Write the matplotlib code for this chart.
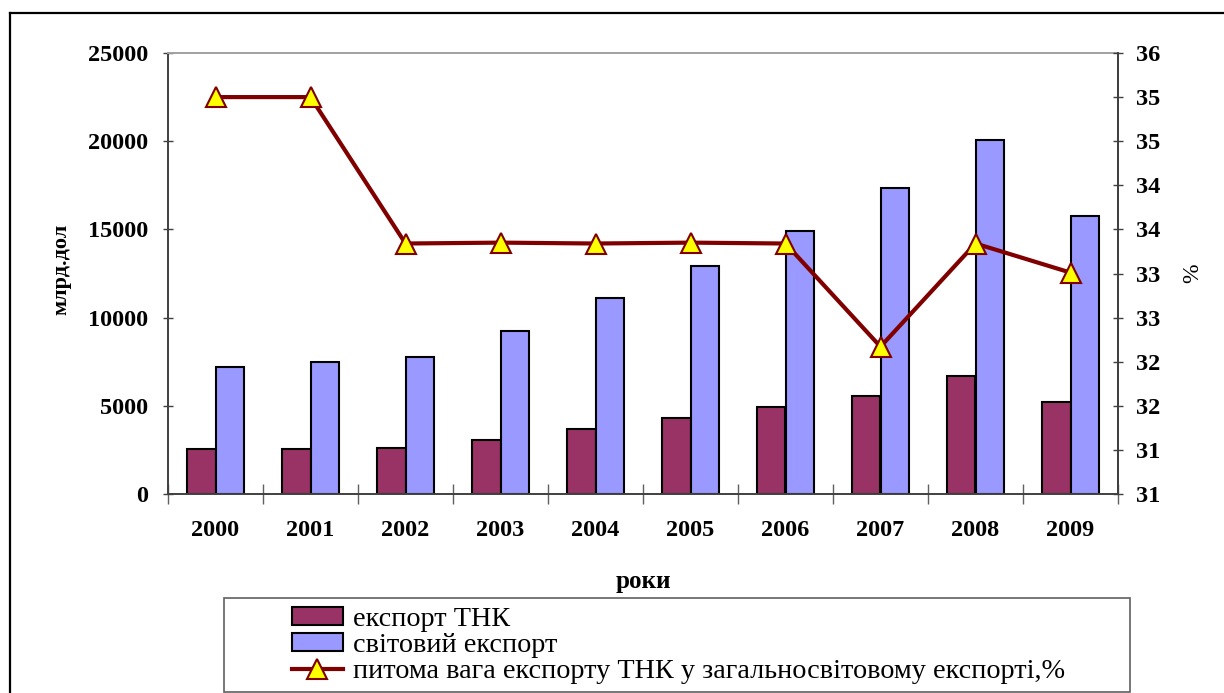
import matplotlib
matplotlib.use("Agg")
import matplotlib.pyplot as plt
from matplotlib.patches import Rectangle
from matplotlib.lines import Line2D
from matplotlib.font_manager import FontProperties
import numpy as np

years = ["2000", "2001", "2002", "2003", "2004", "2005", "2006", "2007", "2008", "2009"]
export_tnc = [2534, 2534, 2626, 3061, 3685, 4308, 4932, 5556, 6672, 5215]
world_export = [7182, 7483, 7785, 9240, 11094, 12942, 14909, 17364, 20051, 15743]
share_pct = [35.5, 35.5, 33.84, 33.85, 33.84, 33.85, 33.84, 32.67, 33.84, 33.51]

left_ticks = [0, 5000, 10000, 15000, 20000, 25000]
right_ticks = [31.0, 31.5, 32.0, 32.5, 33.0, 33.5, 34.0, 34.5, 35.0, 35.5, 36.0]
right_labels = ["31", "31", "32", "32", "33", "33", "34", "34", "35", "35", "36"]

label_tnc = "експорт ТНК"
label_world = "світовий експорт"
label_share = "питома вага експорту ТНК у загальносвітовому експорті,%"

C_TNC = "#993366"
C_WORLD = "#9999FF"
C_LINE = "#800000"
C_MARK = "#FFFF00"

serif = ["Liberation Serif", "DejaVu Serif"]

W, H = 1224, 693
fig = plt.figure(figsize=(W / 100, H / 100), dpi=100)

# outer frame (left and top lines)
fig.add_artist(Line2D([10 / W, 10 / W], [0, 1 - 13 / H], transform=fig.transFigure,
                      color="black", lw=1.6))
fig.add_artist(Line2D([10 / W, 1], [1 - 13 / H, 1 - 13 / H], transform=fig.transFigure,
                      color="black", lw=1.6))

ax = fig.add_axes([168 / W, 1 - 494 / H, (1118 - 168) / W, (494 - 53) / H])
x = np.arange(len(years))
bw = 0.3
ax.bar(x - bw / 2, export_tnc, width=bw, color=C_TNC, edgecolor="black", linewidth=1.5, zorder=2)
ax.bar(x + bw / 2, world_export, width=bw, color=C_WORLD, edgecolor="black", linewidth=1.5, zorder=2)

ax.set_xlim(-0.5, len(years) - 0.5)
ax.set_ylim(0, 25000)
ax.set_yticks(left_ticks)
ax.set_yticklabels([str(t) for t in left_ticks], fontfamily=serif, fontweight="bold", fontsize=17.5)
ax.tick_params(axis="y", direction="inout", length=7, width=1, color="#404040", pad=11)
ax.set_xticks(x)
ax.set_xticklabels(years, fontfamily=serif, fontweight="bold", fontsize=17.5)
ax.tick_params(axis="x", which="major", length=0, pad=19)
ax.set_xticks(np.arange(-0.5, len(years), 1.0), minor=True)
ax.tick_params(axis="x", which="minor", direction="inout", length=14, width=1, color="#606060")

for s in ["left", "bottom", "right"]:
    ax.spines[s].set_color("#404040")
    ax.spines[s].set_linewidth(1.4)
ax.spines["top"].set_color("#a0a0a0")
ax.spines["top"].set_linewidth(1.4)

ax.set_ylabel("млрд.дол", fontfamily=serif, fontweight="bold", fontsize=16)
ax.yaxis.set_label_coords((71 - 168) / 950, 0.51)
ax.set_xlabel("роки", fontfamily=serif, fontweight="bold", fontsize=18)
ax.xaxis.set_label_coords(0.5, -(570 - 494) / 441)

ax2 = ax.twinx()
ax2.plot(x, share_pct, color=C_LINE, lw=3, marker="^", markersize=14,
         markerfacecolor=C_MARK, markeredgecolor=C_LINE, markeredgewidth=1.5, zorder=3)
ax2.set_ylim(31, 36)
ax2.set_yticks(right_ticks)
ax2.set_yticklabels(right_labels, fontfamily=serif, fontweight="bold", fontsize=17.5)
ax2.tick_params(axis="y", direction="inout", length=7, width=1, color="#404040", pad=9.5)
for s in ax2.spines.values():
    s.set_visible(False)
ax2.spines["right"].set_visible(True)
ax2.spines["right"].set_color("#404040")
ax2.spines["right"].set_linewidth(1.4)
ax2.set_ylabel("%", fontfamily=serif, fontsize=17)
ax2.yaxis.set_label_coords((1182 - 168) / 950, 0.5)

# legend box
fig.add_artist(Rectangle((224 / W, 1 - 692 / H), (1130 - 224) / W, (692 - 598) / H,
                         transform=fig.transFigure, facecolor="none", edgecolor="#606060", lw=1.2))

handles = [
    Rectangle((0, 0), 1, 1, facecolor=C_TNC, edgecolor="black", lw=1.5),
    Rectangle((0, 0), 1, 1, facecolor=C_WORLD, edgecolor="black", lw=1.5),
    Line2D([], [], color=C_LINE, lw=3, marker="^", markersize=14,
           markerfacecolor=C_MARK, markeredgecolor=C_LINE, markeredgewidth=1.5),
]
legend_font = FontProperties(family="Liberation Serif", size=20.3)
leg = fig.legend(handles, [label_tnc, label_world, label_share],
                 loc="upper left", bbox_to_anchor=(292 / W, 1 - 607 / H),
                 frameon=False, prop=legend_font,
                 handlelength=1.8, handleheight=0.58, handletextpad=0.38,
                 labelspacing=0.04, borderaxespad=0, borderpad=0)

fig.savefig("out.png", dpi=100)
